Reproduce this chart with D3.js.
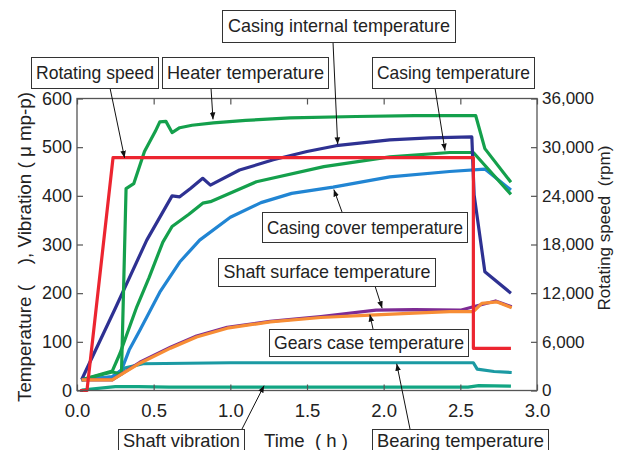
<!DOCTYPE html>
<html>
<head>
<meta charset="utf-8">
<script src="https://cdn.jsdelivr.net/npm/d3@7"></script>
<style>
  html, body { margin: 0; padding: 0; background: #fff; }
  svg { display: block; font-family: "Liberation Sans", Arial, sans-serif; }
  text { white-space: pre; }
</style>
</head>
<body>
<svg id="chart" width="627" height="450"></svg>
<script>
// ---------------- data ----------------
const timeTicks = [0, 0.5, 1.0, 1.5, 2.0, 2.5, 3.0];
const tempTicks = [0, 100, 200, 300, 400, 500, 600];
const speedTicks = [0, 6000, 12000, 18000, 24000, 30000, 36000];

// [time (h), value]
const rotatingSpeed = [[0.02,0],[0.065,0],[0.235,28700],[2.585,28700],[2.585,5200],[2.83,5200]];
const heaterTemp = [[0.03,22],[0.23,38],[0.29,34],[0.32,415],[0.37,425],[0.44,491],[0.51,532],[0.54,552],[0.58,553],[0.62,530],[0.67,540],[0.75,545],[0.89,550],[1.1,555],[1.39,560],[1.82,563],[2.2,565],[2.6,565],[2.66,497],[2.83,428]];
const casingInternalTemp = [[0.03,22],[0.25,169],[0.455,309],[0.62,400],[0.67,398],[0.74,415],[0.82,436],[0.87,422],[1.06,453],[1.28,474],[1.5,491],[1.69,503],[2.04,515],[2.3,519],[2.575,521],[2.59,402],[2.66,244],[2.83,200]];
const casingTemp = [[0.03,22],[0.23,40],[0.28,76],[0.39,172],[0.47,232],[0.56,305],[0.62,337],[0.73,362],[0.82,385],[0.87,388],[1.17,429],[1.61,460],[2.04,480],[2.43,489],[2.585,489],[2.83,403]];
const casingCoverTemp = [[0.03,22],[0.23,28],[0.29,42],[0.34,83],[0.41,124],[0.54,202],[0.67,264],[0.80,309],[1.0,356],[1.2,386],[1.4,405],[1.67,418],[2.04,439],[2.43,450],[2.66,455],[2.83,412]];
const shaftSurfaceTemp = [[0.03,22],[0.23,22],[0.41,58],[0.61,89],[0.78,112],[0.98,130],[1.26,142],[1.59,152],[1.95,165],[2.2,166],[2.5,165],[2.585,172],[2.73,184],[2.835,172]];
const gearsCaseTemp = [[0.03,22],[0.23,22],[0.41,56],[0.61,87],[0.78,110],[0.98,128],[1.26,141],[1.59,150],[1.91,155],[2.2,159],[2.43,162],[2.585,162],[2.64,179],[2.74,182],[2.835,170]];
const bearingTemp = [[0.03,22],[0.23,28],[0.31,46],[0.43,55],[1.0,57],[2.0,57],[2.585,57],[2.61,44],[2.72,39],[2.835,37]];
const shaftVibration = [[0.03,1],[0.25,8],[0.4,8],[0.6,7],[2.55,7],[2.62,10],[2.83,9]];

// annotations: label, tip in data coords (axis: "L" temp / "R" speed)
const annotations = [
  {text:"Rotating speed",              box:[31,57,127,31],  from:[110,88],  tip:[0.31,28700,"R"], tw:118},
  {text:"Heater temperature",          box:[162,57,166,31], from:[211,88],  tip:[0.887,557,"L"], tw:157},
  {text:"Casing internal temperature", box:[222,10,233,32], from:[333,42],  tip:[1.70,506,"L"], tw:222},
  {text:"Casing temperature",          box:[372,57,162,31], from:[435,88],  tip:[2.40,493,"L"], tw:153},
  {text:"Casing cover temperature",    box:[262,212,205,30],from:[342,212], tip:[1.675,413,"L"], tw:196},
  {text:"Shaft surface temperature",   box:[218,258,217,28],from:[375,286], tip:[1.99,169,"L"], tw:207},
  {text:"Gears case temperature",      box:[269,329,199,27],from:[373,329], tip:[1.91,156,"L"], tw:190},
  {text:"Shaft vibration",             box:[118,429,126,30],from:[242,429], tip:[1.22,10,"L"],  tw:117, base:18},
  {text:"Bearing temperature",         box:[372,429,176,30],from:[410,429], tip:[2.085,55,"L"], tw:167, base:18}
];

// ---------------- layout ----------------
const svg = d3.select("#chart");
const L = 77, R = 537, T = 98.5, B = 390.5;
const x = d3.scaleLinear().domain([0, 3]).range([L, R]);
const yL = d3.scaleLinear().domain([0, 600]).range([B, T]);
const yR = d3.scaleLinear().domain([0, 36000]).range([B, T]);

const axisColor = "#555";
const textColor = "#222";

// series
const line = (ys) => d3.line().x(d => x(d[0])).y(d => ys(d[1]));
const series = [
  {d: shaftVibration,     c: "#12a583", s: yL},
  {d: bearingTemp,        c: "#1b9aa3", s: yL},
  {d: casingCoverTemp,    c: "#2185d3", s: yL},
  {d: casingTemp,         c: "#14a04c", s: yL},
  {d: casingInternalTemp, c: "#2e3192", s: yL},
  {d: heaterTemp,         c: "#14a04c", s: yL},
  {d: shaftSurfaceTemp,   c: "#7d2b94", s: yL},
  {d: gearsCaseTemp,      c: "#f78d35", s: yL},
  {d: rotatingSpeed,      c: "#ec2530", s: yR}
];
svg.append("g").selectAll("path").data(series).join("path")
  .attr("d", d => line(d.s)(d.d))
  .attr("fill", "none")
  .attr("stroke", d => d.c)
  .attr("stroke-width", 3.2)
  .attr("stroke-linejoin", "round");

// frame
svg.append("rect").attr("x", L).attr("y", T).attr("width", R - L).attr("height", B - T)
  .attr("fill", "none").attr("stroke", axisColor).attr("stroke-width", 1.3);

function styleAxis(g, fs) {
  g.select(".domain").remove();
  g.selectAll(".tick line").attr("stroke", axisColor).attr("stroke-width", 1.2);
  g.selectAll(".tick text").attr("fill", textColor).style("font-size", fs + "px");
}

svg.append("g").attr("transform", `translate(${L},0)`)
  .call(d3.axisLeft(yL).tickValues(tempTicks).tickSize(-6).tickPadding(5).tickFormat(d3.format("d")))
  .call(g => styleAxis(g, 18));

svg.append("g").attr("transform", `translate(${R},0)`)
  .call(d3.axisRight(yR).tickValues(speedTicks).tickSize(-6).tickPadding(5).tickFormat(d3.format(",")))
  .call(g => styleAxis(g, 17));

svg.append("g").attr("transform", `translate(0,${B})`)
  .call(d3.axisBottom(x).tickValues(timeTicks).tickSize(-6).tickPadding(13).tickFormat(d3.format(".1f")))
  .call(g => styleAxis(g, 18.5));

svg.append("g").attr("transform", `translate(0,${T})`)
  .call(d3.axisTop(x).tickValues(timeTicks).tickSize(-6).tickFormat(""))
  .call(g => styleAxis(g, 18));

// axis titles
svg.append("text")
  .attr("transform", `translate(31,247) rotate(-90)`)
  .attr("text-anchor", "middle").attr("fill", textColor)
  .style("font-size", "18px")
  .attr("textLength", 310).attr("lengthAdjust", "spacingAndGlyphs")
  .text("Temperature\u00a0(\u00a0\u00a0\u00a0\u00a0), Vibration\u00a0(\u00a0\u03bc\u00a0mp-p)");

svg.append("text")
  .attr("transform", `translate(610,228) rotate(-90)`)
  .attr("text-anchor", "middle").attr("fill", textColor)
  .style("font-size", "17px")
  .attr("textLength", 165).attr("lengthAdjust", "spacingAndGlyphs")
  .text("Rotating speed\u00a0\u00a0(rpm)");

svg.append("text")
  .attr("x", 306).attr("y", 446.5)
  .attr("text-anchor", "middle").attr("fill", textColor)
  .style("font-size", "18px")
  .attr("textLength", 84).attr("lengthAdjust", "spacingAndGlyphs")
  .text("Time\u00a0\u00a0(\u00a0h\u00a0)");

// annotations
const defs = svg.append("defs");
defs.append("marker").attr("id", "arr")
  .attr("viewBox", "0 0 10 10").attr("refX", 10).attr("refY", 5)
  .attr("markerWidth", 7).attr("markerHeight", 7).attr("markerUnits", "userSpaceOnUse")
  .attr("orient", "auto")
  .append("path").attr("d", "M0,1 L10,5 L0,9 Z").attr("fill", "#111");

const ag = svg.append("g");
annotations.forEach(a => {
  const tx = x(a.tip[0]);
  const ty = (a.tip[2] === "R" ? yR : yL)(a.tip[1]);
  ag.append("line")
    .attr("x1", a.from[0]).attr("y1", a.from[1])
    .attr("x2", tx).attr("y2", ty)
    .attr("stroke", "#111").attr("stroke-width", 1)
    .attr("marker-end", "url(#arr)");
});
annotations.forEach(a => {
  const [bx, by, bw, bh] = a.box;
  ag.append("rect").attr("x", bx + 0.5).attr("y", by + 0.5).attr("width", bw).attr("height", bh)
    .attr("fill", "#fff").attr("stroke", "#333").attr("stroke-width", 1);
  const base = a.base !== undefined ? a.base : (bh >= 30 ? 21.5 : 20);
  ag.append("text")
    .attr("x", bx + bw / 2 + 0.5).attr("y", by + base)
    .attr("text-anchor", "middle").attr("fill", textColor)
    .style("font-size", "19px")
    .attr("textLength", a.tw).attr("lengthAdjust", "spacingAndGlyphs")
    .text(a.text);
});
</script>
</body>
</html>
